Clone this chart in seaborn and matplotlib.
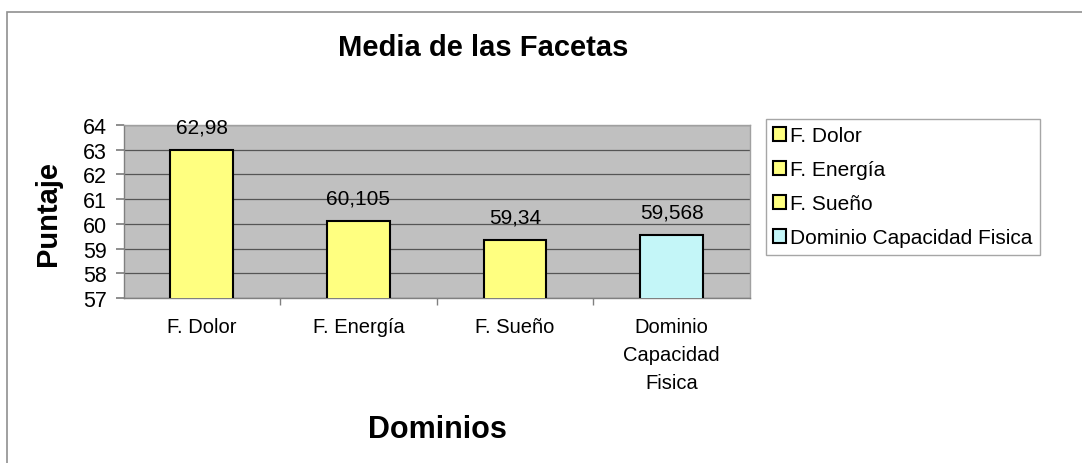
import matplotlib
matplotlib.use("Agg")
import matplotlib.pyplot as plt
import seaborn as sns
import pandas as pd
from matplotlib.patches import Rectangle, Patch

categories = ["F. Dolor", "F. Energía", "F. Sueño", "Dominio Capacidad Fisica"]
tick_labels = ["F. Dolor", "F. Energía", "F. Sueño", "Dominio\nCapacidad\nFisica"]
values = [62.98, 60.105, 59.34, 59.568]
value_labels = ["62,98", "60,105", "59,34", "59,568"]
colors = ["#ffff80", "#ffff80", "#ffff80", "#c4f6f8"]

sns.set_theme(style="white")
plt.rcParams['font.family'] = ['Liberation Sans', 'DejaVu Sans']
plt.rcParams['text.color'] = 'black'
plt.rcParams['axes.labelcolor'] = 'black'
plt.rcParams['xtick.color'] = 'black'
plt.rcParams['ytick.color'] = 'black'

df = pd.DataFrame({"cat": categories, "val": values})

W, H = 1082, 464
fig = plt.figure(figsize=(W/100, H/100), dpi=100)
ax = fig.add_axes([123.5/W, 1-299/H, (750-123.5)/W, (299-126)/H])
ax.set_facecolor("#c0c0c0")

sns.barplot(data=df, x="cat", y="val", hue="cat", palette=colors, dodge=False,
            saturation=1, width=0.4, edgecolor="black", linewidth=1.5,
            legend=False, ax=ax, zorder=3)

ax.set_ylim(57, 64)
ax.set_xlim(-0.5, 3.5)
ax.set_yticks(range(57, 65))
ax.yaxis.grid(True, color="#555555", linewidth=0.9, zorder=0)
ax.set_axisbelow(True)
ax.tick_params(axis="y", labelsize=15.5, length=6, direction="out", left=True,
               pad=6, colors="black", color="#808080")
ax.set_xticks(range(4))
ax.set_xticklabels(tick_labels, fontsize=14.5, linespacing=1.6)
ax.tick_params(axis="x", length=0, pad=14)
ax.set_xticks([0.5, 1.5, 2.5], minor=True)
ax.tick_params(axis="x", which="minor", length=5, direction="out", bottom=True, color="#808080")
for lbl in ax.get_xticklabels():
    lbl.set_verticalalignment("top")

for s in ["top", "right"]:
    ax.spines[s].set_color("#a0a0a0")
    ax.spines[s].set_linewidth(1)
for s in ["left", "bottom"]:
    ax.spines[s].set_color("#808080")
    ax.spines[s].set_linewidth(1)

for i, (v, t) in enumerate(zip(values, value_labels)):
    ax.annotate(t, (i, v), xytext=(0, 16.5), textcoords="offset points",
                ha="center", va="center", fontsize=15, zorder=5)

ax.set_xlabel("Dominios", fontsize=22, fontweight="bold")
ax.xaxis.set_label_coords((437-123.5)/626.5, (299-430)/173)
ax.xaxis.label.set_verticalalignment("center")
ax.set_ylabel("Puntaje", fontsize=21, fontweight="bold")
ax.yaxis.set_label_coords((48-123.5)/626.5, (299-214)/173)
ax.yaxis.label.set_verticalalignment("center")
ax.yaxis.label.set_horizontalalignment("center")

fig.text(483/W, 1-48/H, "Media de las Facetas", ha="center", va="center",
         fontsize=21, fontweight="bold")

handles = [Patch(facecolor=c, edgecolor="black", linewidth=1.5) for c in colors]
leg = fig.legend(handles, categories, loc="upper left",
                 bbox_to_anchor=(766/W, 1-120/H), fontsize=15,
                 frameon=True, fancybox=False, edgecolor="#909090",
                 handlelength=0.62, handleheight=0.62, handletextpad=0.2,
                 labelspacing=0.72, borderpad=0.35, borderaxespad=0)
leg.get_frame().set_linewidth(1)

fig.patches.append(Rectangle((7/W, -0.1), 2, 1.1 - 13/H, transform=fig.transFigure,
                             fill=False, edgecolor="#909090", linewidth=1.2))

fig.savefig("out.png", dpi=100)
